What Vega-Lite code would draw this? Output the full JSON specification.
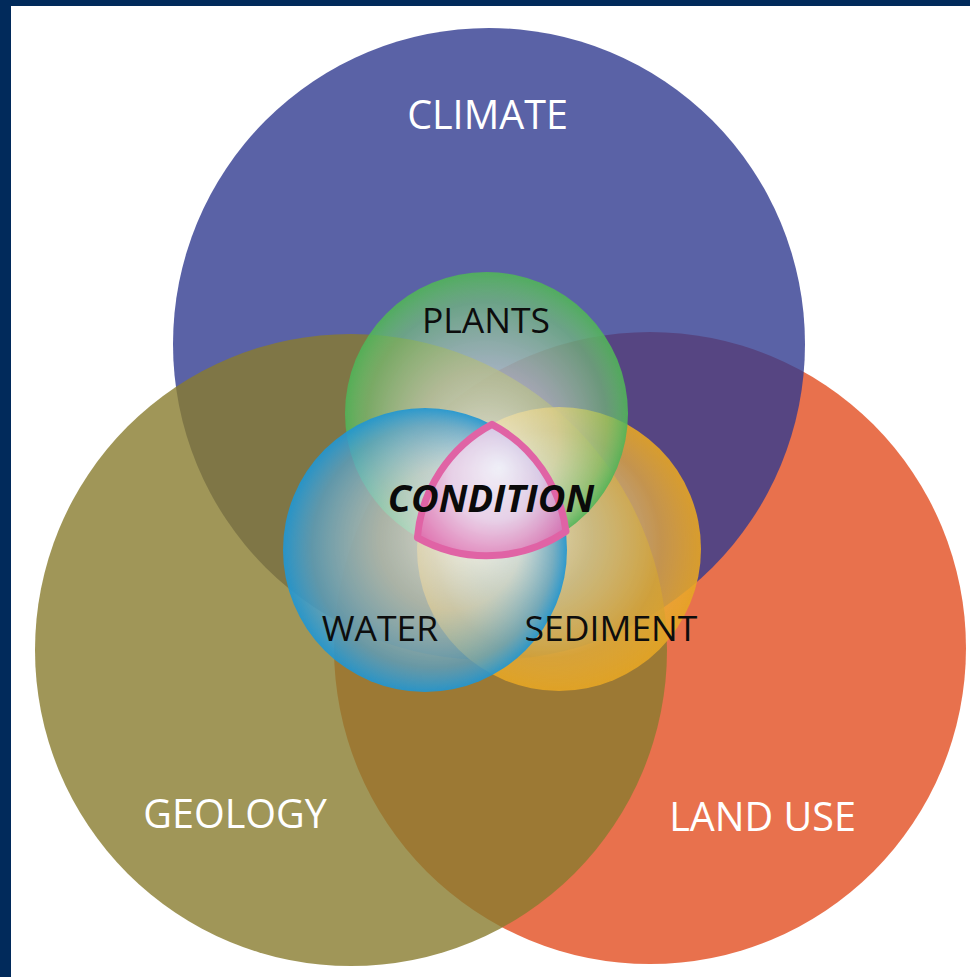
{
  "$schema": "https://vega.github.io/schema/vega-lite/v6.json",
  "width": 959,
  "height": 971,
  "autosize": {"type": "none"},
  "padding": {"left": 11, "top": 6, "right": 0, "bottom": 0},
  "background": "#012a5b",
  "config": {"view": {"fill": "white", "stroke": null}},
  "datasets": {
    "circles": [
      {"name": "LAND USE", "group": "big", "x": 650, "y": 648, "r": 316},
      {"name": "CLIMATE", "group": "big", "x": 489, "y": 344, "r": 316},
      {"name": "GEOLOGY", "group": "big", "x": 351, "y": 650, "r": 316},
      {"name": "SEDIMENT", "group": "small", "x": 559, "y": 549, "r": 142},
      {"name": "PLANTS", "group": "small", "x": 486.5, "y": 413.5, "r": 141.5},
      {"name": "WATER", "group": "small", "x": 425, "y": 550, "r": 142},
      {"name": "CONDITION", "group": "core", "x": 492, "y": 490, "r": 0}
    ],
    "labels": [
      {"label": "CLIMATE", "kind": "outer", "x": 487.5, "y": 129},
      {"label": "GEOLOGY", "kind": "outer", "x": 235, "y": 828},
      {"label": "LAND USE", "kind": "outer", "x": 762.5, "y": 831},
      {"label": "PLANTS", "kind": "inner", "x": 486, "y": 333},
      {"label": "WATER", "kind": "inner", "x": 380, "y": 641},
      {"label": "SEDIMENT", "kind": "inner", "x": 611, "y": 641},
      {"label": "CONDITION", "kind": "core", "x": 491, "y": 512}
    ]
  },
  "encoding": {
    "x": {"field": "x", "type": "quantitative", "axis": null, "scale": {"domain": [11, 970], "zero": false, "nice": false}},
    "y": {"field": "y", "type": "quantitative", "axis": null, "scale": {"domain": [6, 977], "zero": false, "nice": false, "reverse": true}}
  },
  "layer": [
    {
      "data": {"name": "circles"},
      "transform": [{"filter": "datum.group === 'big'"}],
      "mark": {"type": "point", "shape": "circle", "filled": true, "opacity": 0.8, "strokeWidth": 0},
      "encoding": {
        "color": {"field": "name", "type": "nominal", "legend": null,
          "scale": {"domain": ["LAND USE", "CLIMATE", "GEOLOGY"], "range": ["#e24e21", "#313b90", "#887c2e"]}},
        "size": {"field": "r", "type": "quantitative", "legend": null,
          "scale": {"type": "pow", "exponent": 2, "domain": [0, 400], "range": [0, 640000]}}
      }
    },
    {
      "data": {"name": "circles"},
      "transform": [{"filter": "datum.name === 'SEDIMENT'"}],
      "mark": {"type": "point", "shape": "circle", "filled": true, "opacity": 1, "strokeWidth": 0,
        "fill": {"gradient": "radial", "x1": 0.3, "y1": 0.42, "r1": 0, "x2": 0.5, "y2": 0.5, "r2": 0.5,
          "stops": [
            {"offset": 0, "color": "rgba(255,252,236,0.88)"},
            {"offset": 0.45, "color": "rgba(246,226,165,0.64)"},
            {"offset": 0.8, "color": "rgba(238,178,58,0.72)"},
            {"offset": 1, "color": "rgba(230,166,36,0.9)"}
          ]}},
      "encoding": {
        "size": {"field": "r", "type": "quantitative", "legend": null}
      }
    },
    {
      "data": {"name": "circles"},
      "transform": [{"filter": "datum.name === 'PLANTS'"}],
      "mark": {"type": "point", "shape": "circle", "filled": true, "opacity": 1, "strokeWidth": 0,
        "fill": {"gradient": "radial", "x1": 0.5, "y1": 0.7, "r1": 0, "x2": 0.5, "y2": 0.5, "r2": 0.5,
          "stops": [
            {"offset": 0, "color": "rgba(255,255,255,0.82)"},
            {"offset": 0.5, "color": "rgba(214,234,208,0.58)"},
            {"offset": 0.85, "color": "rgba(118,198,118,0.64)"},
            {"offset": 1, "color": "rgba(80,180,88,0.9)"}
          ]}},
      "encoding": {
        "size": {"field": "r", "type": "quantitative", "legend": null}
      }
    },
    {
      "data": {"name": "circles"},
      "transform": [{"filter": "datum.name === 'WATER'"}],
      "mark": {"type": "point", "shape": "circle", "filled": true, "opacity": 1, "strokeWidth": 0,
        "fill": {"gradient": "radial", "x1": 0.68, "y1": 0.42, "r1": 0, "x2": 0.5, "y2": 0.5, "r2": 0.5,
          "stops": [
            {"offset": 0, "color": "rgba(255,253,245,0.85)"},
            {"offset": 0.5, "color": "rgba(200,222,234,0.6)"},
            {"offset": 0.85, "color": "rgba(84,164,208,0.72)"},
            {"offset": 1, "color": "rgba(32,150,210,0.92)"}
          ]}},
      "encoding": {
        "size": {"field": "r", "type": "quantitative", "legend": null}
      }
    },
    {
      "data": {"name": "circles"},
      "transform": [{"filter": "datum.group === 'core'"}],
      "mark": {"type": "point", "filled": true, "opacity": 1, "size": 4,
        "shape": "M0,-65.7 A142,142 0 0 1 74,41.4 A141.5,141.5 0 0 1 -74.6,47.6 A142,142 0 0 1 0,-65.7 Z",
        "stroke": "#e063a5", "strokeWidth": 7, "strokeOpacity": 1, "strokeJoin": "round",
        "fill": {"gradient": "radial", "x1": 0.55, "y1": 0.35, "r1": 0, "x2": 0.5, "y2": 0.45, "r2": 0.6,
          "stops": [
            {"offset": 0, "color": "rgba(244,242,250,0.92)"},
            {"offset": 0.5, "color": "rgba(232,206,232,0.9)"},
            {"offset": 1, "color": "rgba(226,106,174,0.92)"}
          ]}},
      "encoding": {}
    },
    {
      "data": {"name": "labels"},
      "transform": [{"filter": "datum.kind === 'outer'"}],
      "mark": {"type": "text", "font": "Open Sans", "fontSize": 39.5, "color": "white", "align": "center", "baseline": "alphabetic"},
      "encoding": {"text": {"field": "label"}}
    },
    {
      "data": {"name": "labels"},
      "transform": [{"filter": "datum.kind === 'inner'"}],
      "mark": {"type": "text", "font": "Open Sans", "fontSize": 35.5, "color": "#0d0d0d", "align": "center", "baseline": "alphabetic"},
      "encoding": {"text": {"field": "label"}}
    },
    {
      "data": {"name": "labels"},
      "transform": [{"filter": "datum.kind === 'core'"}],
      "mark": {"type": "text", "font": "Open Sans", "fontSize": 38, "fontWeight": "bold", "fontStyle": "italic", "color": "#0a0a0a", "align": "center", "baseline": "alphabetic"},
      "encoding": {"text": {"field": "label"}}
    }
  ]
}
